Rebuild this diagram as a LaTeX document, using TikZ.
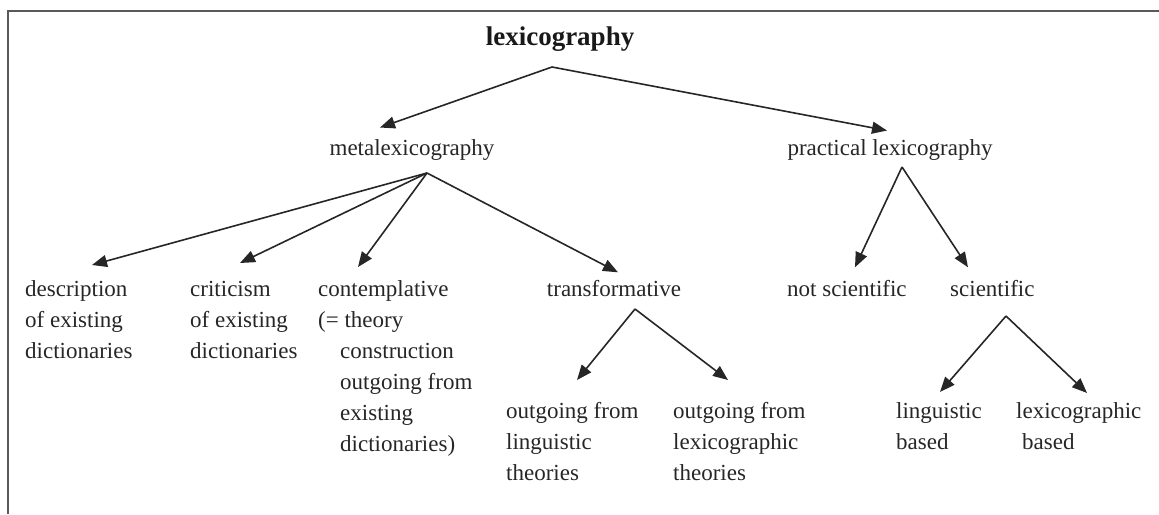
\documentclass[tikz,border=0pt]{standalone}
\usepackage{fontspec}
\setmainfont{Liberation Serif}
\usetikzlibrary{arrows.meta}
\tikzset{term/.style={font=\fontsize{23}{31}\selectfont,text=black!85,inner sep=0pt,align=left}}
\tikzset{branch/.style={-{Triangle[length=15pt,width=12pt]},line width=1.6pt,draw=black!85}}

\begin{document}
\begin{tikzpicture}[x=1pt,y=-1pt]
	\useasboundingbox (0,0) rectangle (1159,514);
	\draw[line width=1.2pt,black!65] (8,514) -- (8,11) -- (1159,11);
	% levels
	\node[font=\fontsize{27}{32}\selectfont\bfseries,text=black!90,inner sep=0pt,anchor=base] (lex) at (560,45) {lexicography};
	\node[term,anchor=base] (meta) at (412,155) {metalexicography};
	\node[term,anchor=base] (prac) at (890,155) {practical lexicography};
	\node[term,anchor=north west] (desc) at (25,274.3) {\strut description\\of existing\\dictionaries};
	\node[term,anchor=north west] (crit) at (190,274.3) {\strut criticism\\of existing\\dictionaries};
	\node[term,anchor=north west] (cont) at (318,274.3) {\strut contemplative\\(= theory\\\hspace*{22pt}construction\\\hspace*{22pt}outgoing from\\\hspace*{22pt}existing\\\hspace*{22pt}dictionaries)};
	\node[term,anchor=base] (trans) at (614,296) {transformative};
	\node[term,anchor=base west] (notsci) at (787,296) {not scientific};
	\node[term,anchor=base west] (sci) at (950,296) {scientific};
	\node[term,anchor=north west] (outling) at (506,396.3) {\strut outgoing from\\linguistic\\theories};
	\node[term,anchor=north west] (outlex) at (673,396.3) {\strut outgoing from\\lexicographic\\theories};
	\node[term,anchor=north west] (lingb) at (896,396.3) {\strut linguistic\\based};
	\node[term,anchor=north west] (lexb) at (1016,396.3) {\strut lexicographic\\\hspace*{6pt}based};
	% forks
	\coordinate (lexfork) at ([shift={(-8,22)}]lex.base);
	\coordinate (metafork) at ([shift={(15,18)}]meta.base);
	\coordinate (pracfork) at ([shift={(12,12)}]prac.base);
	\coordinate (transfork) at ([shift={(21,13)}]trans.base);
	\coordinate (scifork) at ([shift={(56,20)}]sci.base west);
	% arrows
	\draw[branch] (lexfork) -- ([shift={(-32,-11.3)}]meta.north);
	\draw[branch] (lexfork) -- ([shift={(-3,-8.3)}]prac.north);
	\draw[branch] (metafork) -- ([shift={(67,-9.3)}]desc.north west);
	\draw[branch] (metafork) -- ([shift={(50,-11.3)}]crit.north west);
	\draw[branch] (metafork) -- ([shift={(40,-7.3)}]cont.north west);
	\draw[branch] (metafork) -- ([shift={(4,-7.3)}]trans.north);
	\draw[branch] (pracfork) -- ([shift={(68,-12.3)}]notsci.north west);
	\draw[branch] (pracfork) -- ([shift={(18,-12.3)}]sci.north west);
	\draw[branch] (transfork) -- ([shift={(71,-16.3)}]outling.north west);
	\draw[branch] (transfork) -- ([shift={(55,-16.3)}]outlex.north west);
	\draw[branch] (scifork) -- ([shift={(44,-4.3)}]lingb.north west);
	\draw[branch] (scifork) -- ([shift={(71,-3.3)}]lexb.north west);
\end{tikzpicture}
\end{document}
